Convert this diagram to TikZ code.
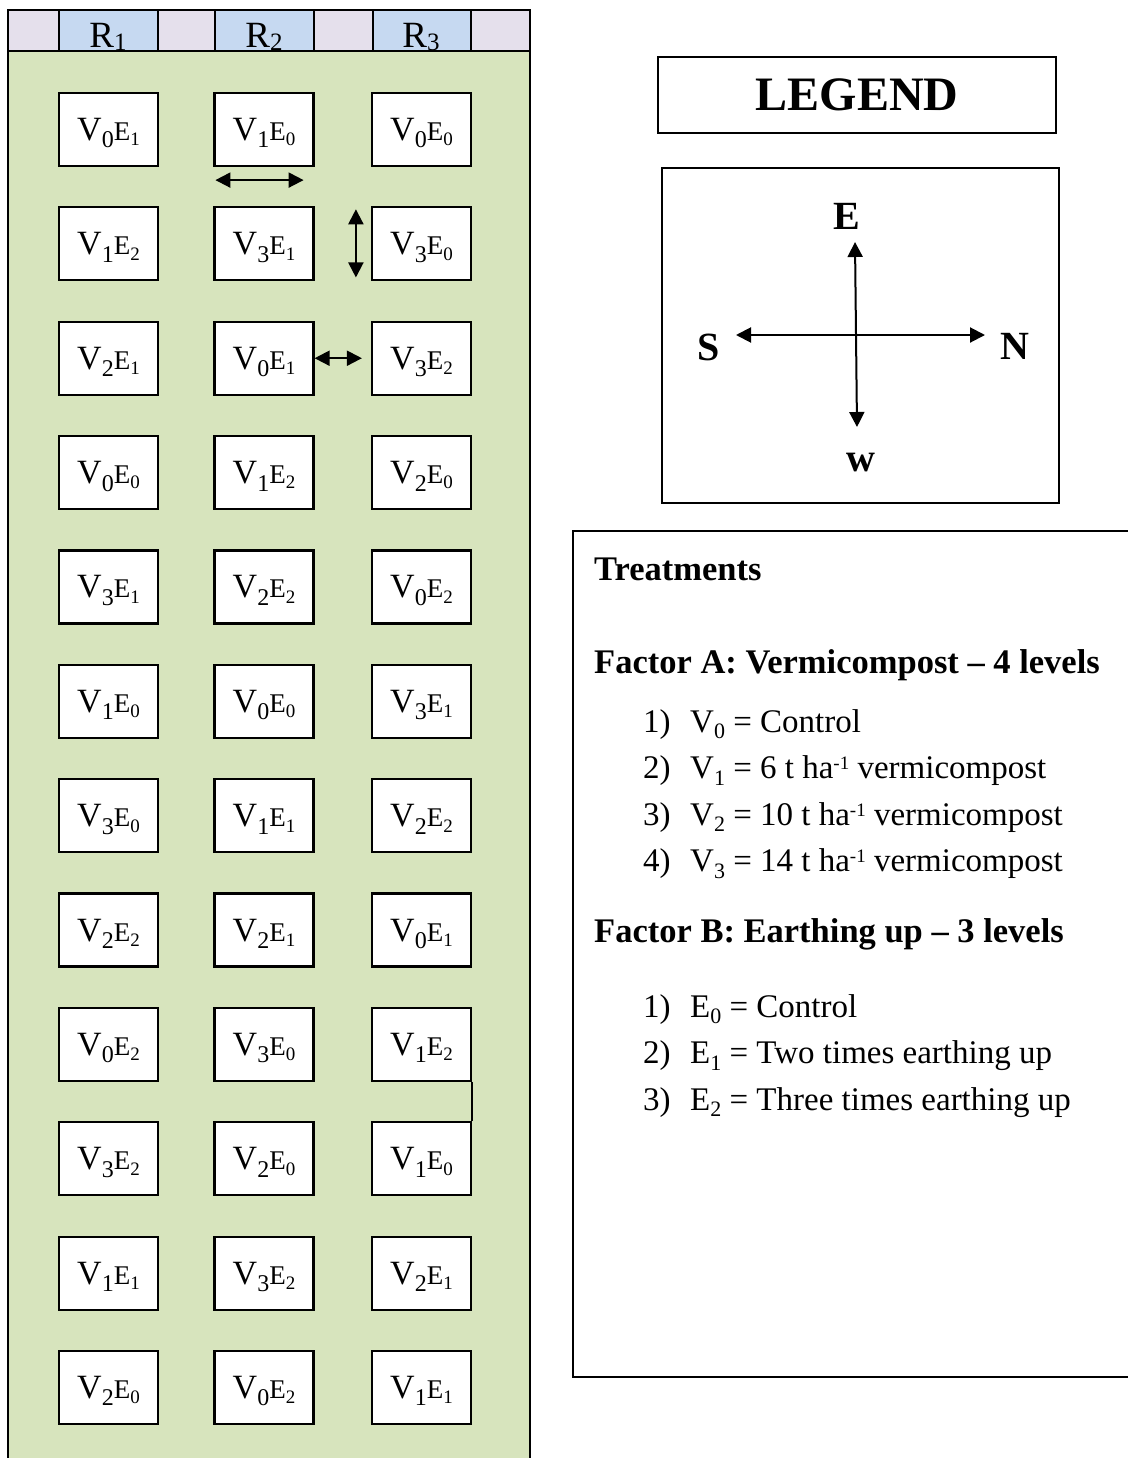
\documentclass[tikz,border=0pt]{standalone}
\usepackage{fontspec}
\setmainfont{Liberation Serif}
\usetikzlibrary{arrows.meta,calc}
\definecolor{fieldgreen}{HTML}{D7E4BD}
\definecolor{hdrlav}{HTML}{E5E0EC}
\definecolor{hdrblue}{HTML}{C6D9F1}
\newcommand\fs[1]{\fontsize{#1}{#1}\selectfont}
\newcommand\vecell[2]{{\fs{34}V\raisebox{-0.22em}{\fs{24}#1}}{\fs{27}E\raisebox{-0.2em}{\fs{19}#2}}}
\newcommand\rlab[1]{{\fs{37}R\raisebox{-0.08em}{\fs{25}#1}}}
\newcommand\lsub[2]{#1\raisebox{-0.2em}{\fs{22}#2}}
\newcommand\hainv{ha\raisebox{0.27em}{\fs{19}-1}}
\tikzset{
  plotbox/.style={draw, line width=2.2pt, fill=white, minimum width=99pt, minimum height=73pt,
    inner sep=0pt, text height=22pt, text depth=0pt},
  twoarr/.style={line width=2pt, {Triangle[length=15pt,width=15pt]}-{Triangle[length=15pt,width=15pt]}},
  cmp/.style={inner sep=0pt, font=\fs{40}\bfseries},
  txt/.style={anchor=base west, inner sep=0pt, font=\fs{33}},
  hd/.style={anchor=base west, inner sep=0pt, font=\fs{34.5}\bfseries},
  framebox/.style={draw, line width=1.8pt},
}
\begin{document}
\begin{tikzpicture}[x=1pt,y=-1pt]
\useasboundingbox (0,0) rectangle (1127,1458);
% field
\fill[fieldgreen] (8,51) rectangle (530,1470);
\draw[line width=1.5pt] (8,51) -- (8,1470);
\draw[line width=2.5pt] (530,51) -- (530,1470);
% header
\fill[hdrlav] (8,10) rectangle (530,51);
\fill[hdrblue] (59,10) rectangle (158,51);
\fill[hdrblue] (215,10) rectangle (314,51);
\fill[hdrblue] (373,10) rectangle (471,51);
\draw[line width=2.2pt] (8,10) rectangle (530,51);
\foreach \xx in {59,158,215,314,373,471}{\draw[line width=2.2pt] (\xx,10) -- (\xx,51);}
\node[anchor=base, inner sep=0pt] (r1) at (108,48) {\rlab{1}};
\node[anchor=base, inner sep=0pt] (r2) at (264,48) {\rlab{2}};
\node[anchor=base, inner sep=0pt] (r3) at (421,48) {\rlab{3}};
% plots
\foreach \pa/\pb/\pc/\pd/\pe/\pf [count=\i] in {
 0/1/1/0/0/0, 1/2/3/1/3/0, 2/1/0/1/3/2, 0/0/1/2/2/0,
 3/1/2/2/0/2, 1/0/0/0/3/1, 3/0/1/1/2/2, 2/2/2/1/0/1,
 0/2/3/0/1/2, 3/2/2/0/1/0, 1/1/3/2/2/1, 2/0/0/2/1/1}{
  \pgfmathsetmacro\yy{129.5+(\i-1)*114.36}
  \node[plotbox] (b\i1) at (108.5,\yy) {\vecell{\pa}{\pb}};
  \node[plotbox] (b\i2) at (264,\yy) {\vecell{\pc}{\pd}};
  \node[plotbox] (b\i3) at (421.5,\yy) {\vecell{\pe}{\pf}};
}
% arrows in field
\coordinate (h1) at ($(b12.south west)+(2,13)$);
\coordinate (h2) at ($(b12.south east)+(-11,13)$);
\draw[twoarr] (h1) -- (h2);
\coordinate (v1) at ($(b23.north west)+(-15,3)$);
\coordinate (v2) at ($(b23.south west)+(-15,-4)$);
\draw[twoarr] (v1) -- (v2);
\coordinate (w2) at ($(b33.west)+(-9,0)$);
\draw[twoarr] (b32.east) -- (w2);
\draw[line width=2.2pt] (b93.south east) -- (b103.north east);
% legend
\node[framebox, minimum width=398pt, minimum height=76pt, inner sep=0pt] (legend) at (857,95) {\fs{48}\bfseries LEGEND};
\node[framebox, minimum width=397pt, minimum height=335pt] (compass) at (860.5,335.5) {};
\node[cmp] (lE) at (847,216) {E};
\node[cmp] (lS) at (709,347) {S};
\node[cmp] (lN) at (1015,346) {N};
\node[cmp] (lW) at (861,463) {w};
\coordinate (ct) at (855,242);
\coordinate (cb) at (857,427);
\coordinate (cl) at (736,335);
\coordinate (cr) at (985,335);
\draw[twoarr] (cb) -- (ct);
\draw[twoarr] (cl) -- (cr);
% treatments
\draw[line width=2.2pt] (573,531) rectangle (1150,1377);
\node[hd] (tr) at (594,580) {Treatments};
\node[hd] (fa) at (594,673) {Factor A: Vermicompost – 4 levels};
\node[txt] (a1n) at (643,732) {1)};
\node[txt] (a1t) at (690,732) {\lsub{V}{0} = Control};
\node[txt] (a2n) at (643,778.5) {2)};
\node[txt] (a2t) at (690,778.5) {\lsub{V}{1} = 6 t \hainv{} vermicompost};
\node[txt] (a3n) at (643,825) {3)};
\node[txt] (a3t) at (690,825) {\lsub{V}{2} = 10 t \hainv{} vermicompost};
\node[txt] (a4n) at (643,871.5) {4)};
\node[txt] (a4t) at (690,871.5) {\lsub{V}{3} = 14 t \hainv{} vermicompost};
\node[hd] (fb) at (594,942) {Factor B: Earthing up – 3 levels};
\node[txt] (b1n) at (643,1017) {1)};
\node[txt] (b1t) at (690,1017) {\lsub{E}{0} = Control};
\node[txt] (b2n) at (643,1063.5) {2)};
\node[txt] (b2t) at (690,1063.5) {\lsub{E}{1} = Two times earthing up};
\node[txt] (b3n) at (643,1110) {3)};
\node[txt] (b3t) at (690,1110) {\lsub{E}{2} = Three times earthing up};
\end{tikzpicture}
\end{document}
